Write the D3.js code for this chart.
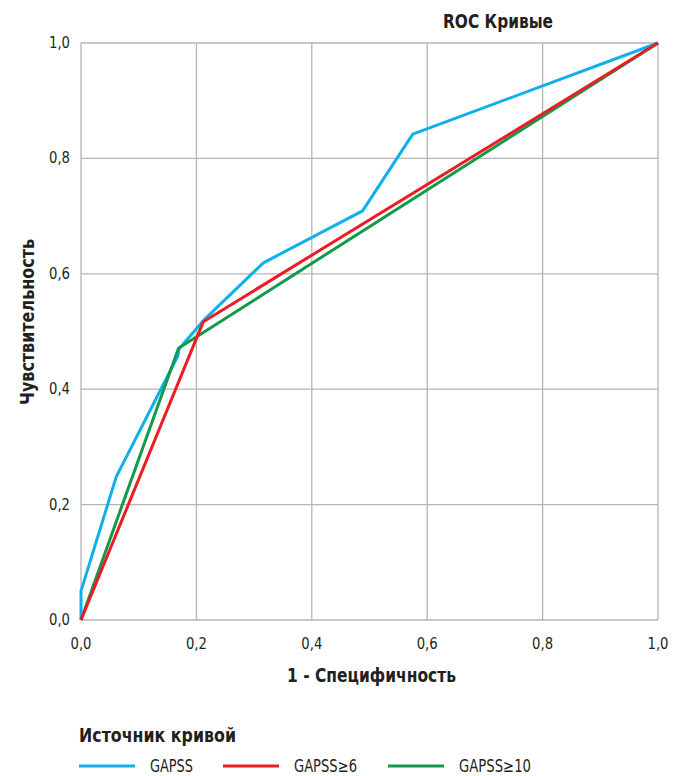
<!DOCTYPE html>
<html>
<head>
<meta charset="utf-8">
<script src="https://cdn.jsdelivr.net/npm/d3@7"></script>
<style>
  body { margin: 0; background: #fff; }
  svg text { font-family: "Liberation Sans Narrow", "DejaVu Sans Condensed", "Roboto Condensed", sans-serif; fill: #231f20; }
</style>
</head>
<body>
<div id="container"></div>
<script>
// values
const ticks = [0, 0.2, 0.4, 0.6, 0.8, 1.0];
const seriesNames = ["GAPSS", "GAPSS≥6", "GAPSS≥10"];
const colors = ["#0db0ec", "#ec1c24", "#12994a"];
const gapssX = [0, 0, 0.061, 0.168, 0.170, 0.215, 0.316, 0.488, 0.575, 1];
const gapssY = [0, 0.05, 0.248, 0.458, 0.470, 0.522, 0.619, 0.709, 0.842, 1];
const gapss6X = [0, 0.212, 1];
const gapss6Y = [0, 0.517, 1];
const gapss10X = [0, 0.169, 1];
const gapss10Y = [0, 0.471, 1];

const width = 678, height = 776;
const margin = ({top: 43, right: 20, bottom: 156, left: 81});

const svg = d3.select("#container").append("svg")
    .attr("width", width).attr("height", height);

const x = d3.scaleLinear([0, 1], [margin.left, 658]);
const y = d3.scaleLinear([0, 1], [620, margin.top]);
const fmt = d => d3.format(".1f")(d).replace(".", ",");

// grid
const grid = svg.append("g").attr("stroke", "#b5b5b7").attr("stroke-width", 1.3);
grid.selectAll(".vx").data(ticks).join("line")
    .attr("x1", d => x(d)).attr("x2", d => x(d))
    .attr("y1", y(0)).attr("y2", y(1));
grid.selectAll(".hy").data(ticks).join("line")
    .attr("y1", d => y(d)).attr("y2", d => y(d))
    .attr("x1", x(0)).attr("x2", x(1));

// tick labels
svg.append("g").selectAll("text").data(ticks).join("text")
    .attr("x", d => x(d)).attr("y", 649)
    .attr("text-anchor", "middle")
    .attr("font-size", 16)
    .attr("textLength", 21).attr("lengthAdjust", "spacingAndGlyphs")
    .text(fmt);
svg.append("g").selectAll("text").data(ticks).join("text")
    .attr("x", 70).attr("y", d => y(d) + 5)
    .attr("text-anchor", "end")
    .attr("font-size", 16)
    .attr("textLength", 21).attr("lengthAdjust", "spacingAndGlyphs")
    .text(fmt);

// lines
const series = [
  d3.zip(gapssX, gapssY),
  d3.zip(gapss6X, gapss6Y),
  d3.zip(gapss10X, gapss10Y)
];
const line = d3.line().x(d => x(d[0])).y(d => y(d[1]));
const order = [0, 2, 1];
svg.append("g").selectAll("path").data(order).join("path")
    .attr("d", i => line(series[i]))
    .attr("fill", "none")
    .attr("stroke", i => colors[i])
    .attr("stroke-width", 3)
    .attr("stroke-linejoin", "round");

// titles
svg.append("text").attr("x", 443).attr("y", 28)
    .attr("font-size", 19).attr("font-weight", "bold")
    .attr("textLength", 110).attr("lengthAdjust", "spacingAndGlyphs")
    .text("ROC Кривые");
svg.append("text").attr("x", 287).attr("y", 682)
    .attr("font-size", 20).attr("font-weight", "bold")
    .attr("textLength", 169).attr("lengthAdjust", "spacingAndGlyphs")
    .text("1 - Специфичность");
svg.append("text")
    .attr("transform", "translate(34,405) rotate(-90)")
    .attr("font-size", 20).attr("font-weight", "bold")
    .attr("textLength", 166).attr("lengthAdjust", "spacingAndGlyphs")
    .text("Чувствительность");

// legend
svg.append("text").attr("x", 79).attr("y", 742)
    .attr("font-size", 19).attr("font-weight", "bold")
    .attr("textLength", 157).attr("lengthAdjust", "spacingAndGlyphs")
    .text("Источник кривой");
const legX = [79, 223, 388];
const legW = [43, 63, 72];
const leg = svg.append("g").selectAll("g").data(seriesNames).join("g")
    .attr("transform", (d, i) => `translate(${legX[i]},766)`);
leg.append("line").attr("x1", 0).attr("x2", 56)
    .attr("stroke", (d, i) => colors[i]).attr("stroke-width", 3);
leg.append("text").attr("x", (d, i) => i === 0 ? 71 : 71).attr("y", 6)
    .attr("font-size", 17)
    .attr("textLength", (d, i) => legW[i]).attr("lengthAdjust", "spacingAndGlyphs")
    .text(d => d);
</script>
</body>
</html>
